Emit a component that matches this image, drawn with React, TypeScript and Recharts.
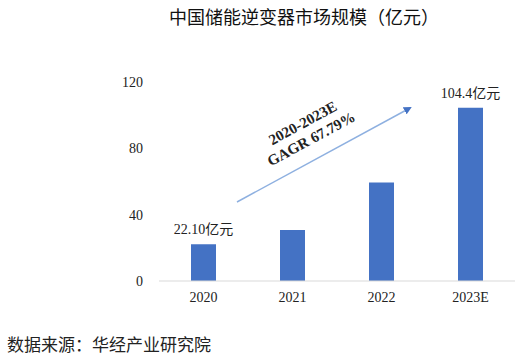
import { Bar, BarChart, LabelList, XAxis, YAxis } from 'recharts'

const years = ['2020', '2021', '2022', '2023E']
const marketSize = [22.1, 30.7, 59.4, 104.4]
const yTicks = [0, 40, 80, 120]
const valueLabels = ['22.10亿元', '', '', '104.4亿元']

const data = years.map((year, i) => ({ year, value: marketSize[i], label: valueLabels[i] }))

const serif = '"Liberation Serif", "Noto Sans CJK SC", serif'
const cjk = '"Noto Sans CJK SC", "Liberation Serif", sans-serif'

function App() {
  return (
    <div style={{ position: 'absolute', left: 0, top: 0, width: 523, height: 355, background: '#fff' }}>
      <div
        style={{
          position: 'absolute',
          top: 3,
          left: 0,
          width: 608,
          textAlign: 'center',
          fontFamily: cjk,
          fontSize: 18,
          fontWeight: 400,
          color: '#111',
        }}
      >
        中国储能逆变器市场规模（亿元）
      </div>
      <BarChart
        width={523}
        height={320}
        data={data}
        margin={{ top: 82, right: 8, bottom: 9, left: 0 }}
        barSize={25}
      >
        <XAxis
          dataKey="year"
          axisLine={{ stroke: '#d9d9d9' }}
          tickLine={false}
          tickMargin={5}
          height={30}
          tick={{ fill: '#222', fontSize: 14, fontFamily: serif }}
        />
        <YAxis
          width={159}
          domain={[0, 120]}
          ticks={yTicks}
          axisLine={false}
          tickLine={false}
          tickMargin={10}
          tick={{ fill: '#222', fontSize: 14, fontFamily: serif }}
        />
        <Bar dataKey="value" fill="#4472c4" isAnimationActive={false}>
          <LabelList
            dataKey="label"
            position="top"
            offset={10}
            style={{ fill: '#222', fontSize: 14, fontFamily: serif }}
          />
        </Bar>
      </BarChart>
      <svg width={523} height={355} style={{ position: 'absolute', left: 0, top: 0, pointerEvents: 'none' }}>
        <defs>
          <marker id="arrow" markerWidth="8" markerHeight="8" refX="6" refY="4" orient="auto" markerUnits="userSpaceOnUse">
            <path d="M0,0 L8,4 L0,8 Z" fill="#4472c4" />
          </marker>
        </defs>
        <line x1={237} y1={202} x2={410} y2={108} stroke="#8eb0e0" strokeWidth={1.5} markerEnd="url(#arrow)" />
        <g transform="translate(307,131) rotate(-28.5)" fontFamily={serif} fontWeight="bold" fontSize={15} fill="#222">
          <text x={0} y={-4} textAnchor="middle">2020-2023E</text>
          <text x={0} y={14} textAnchor="middle">GAGR 67.79%</text>
        </g>
      </svg>
      <div
        style={{
          position: 'absolute',
          left: 7,
          top: 331,
          fontFamily: cjk,
          fontSize: 17,
          color: '#222',
          whiteSpace: 'nowrap',
        }}
      >
        数据来源：华经产业研究院
      </div>
    </div>
  )
}

export default App
